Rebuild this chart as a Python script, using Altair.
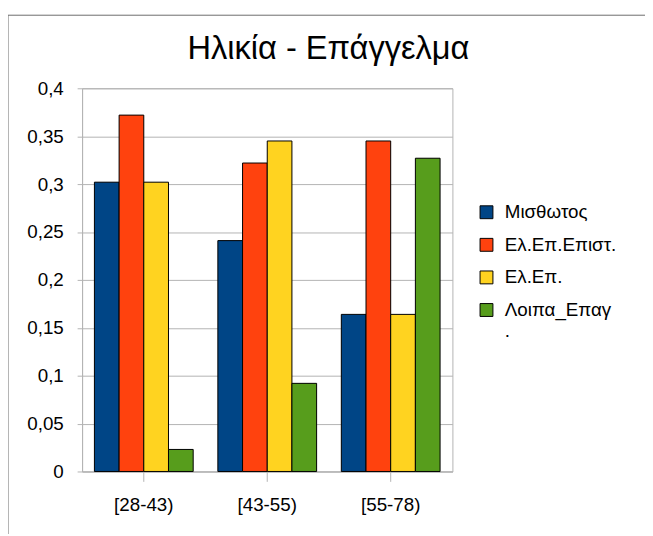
import altair as alt
import pandas as pd

groups = ["[28-43)", "[43-55)", "[55-78)"]
series = ["Μισθωτος", "Ελ.Επ.Επιστ.", "Ελ.Επ.", "Λοιπα_Επαγ."]
misthotos = [0.302, 0.241, 0.164]
el_ep_epist = [0.372, 0.322, 0.345]
el_ep = [0.302, 0.345, 0.164]
loipa = [0.023, 0.092, 0.327]
colors = ["#004586", "#ff420e", "#ffd320", "#579d1c"]

rows = []
for s, vals in zip(series, [misthotos, el_ep_epist, el_ep, loipa]):
    for g, v in zip(groups, vals):
        rows.append({"group": g, "series": s, "value": v})
df = pd.DataFrame(rows)

FONT = "Liberation Sans"
FS = 19

x_enc = alt.X("group:N", sort=groups, title=None,
              scale=alt.Scale(paddingInner=0.2, paddingOuter=0.1),
              axis=alt.Axis(labelAngle=0, labelFontSize=FS, labelFont=FONT, labelColor="#000000",
                            tickSize=10, tickColor="#b3b3b3", domainColor="#b3b3b3",
                            labelPadding=15, grid=False))
y_enc = alt.Y("value:Q", title=None,
              scale=alt.Scale(domain=[0, 0.4], nice=False),
              axis=alt.Axis(values=[0, 0.05, 0.1, 0.15, 0.2, 0.25, 0.3, 0.35, 0.4],
                            labelExpr="replace(format(datum.value, '.2~f'), '.', ',')",
                            labelFontSize=FS, labelFont=FONT, labelColor="#000000",
                            tickSize=5, tickColor="#b3b3b3", domainColor="#b3b3b3",
                            gridColor="#b3b3b3", labelPadding=14))
xo_enc = alt.XOffset("series:N", sort=series)

shadow = alt.Chart(df).mark_bar(color="#8a8a8a", opacity=0.8, xOffset=2).encode(
    x=x_enc, xOffset=xo_enc, y=y_enc
)

bars = alt.Chart(df).mark_bar(stroke="#000000", strokeWidth=1).encode(
    x=x_enc,
    xOffset=xo_enc,
    y=y_enc,
    color=alt.Color("series:N", sort=series,
                    scale=alt.Scale(domain=series, range=colors),
                    legend=alt.Legend(title=None, orient="none", legendX=400, legendY=116,
                                      symbolType="square", symbolSize=170,
                                      symbolStrokeColor="#000000", symbolStrokeWidth=1,
                                      labelFontSize=FS, labelFont=FONT, labelColor="#000000",
                                      rowPadding=13, labelOffset=9, labelLimit=200,
                                      labelExpr="datum.label == 'Λοιπα_Επαγ.' ? ['Λοιπα_Επαγ', '.'] : datum.label")),
)

frame = alt.Chart(pd.DataFrame({"a": [0]})).mark_rect(
    fill="transparent", stroke="#6b6b6b", strokeWidth=1, clip=False
).encode(
    x=alt.value(-75), x2=alt.value(700), y=alt.value(-74), y2=alt.value(600)
)

chart = alt.layer(shadow, bars, frame).properties(
    width=375, height=388,
    autosize="none",
    padding={"left": 75, "top": 78, "right": 195, "bottom": 60},
    title=alt.TitleParams("Ηλικία - Επάγγελμα", fontSize=33, font=FONT, fontWeight="normal",
                          color="#000000", anchor="middle", dx=62, offset=-52),
).configure_view(stroke="#b3b3b3")

chart.save("out.html", embed_options={"renderer": "svg", "actions": False})
